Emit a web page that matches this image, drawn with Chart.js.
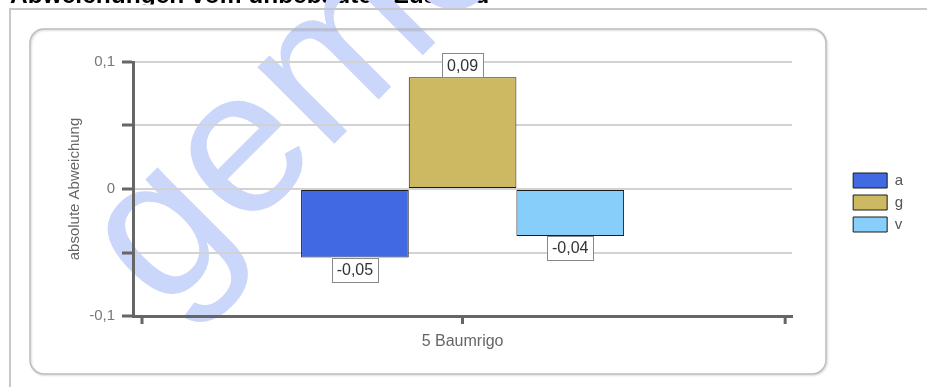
<!DOCTYPE html>
<html>
<head>
<meta charset="utf-8">
<script src="https://cdn.jsdelivr.net/npm/chart.js@4"></script>
<style>
  html, body { margin: 0; padding: 0; background: #fff; }
  #wrap { position: relative; width: 927px; height: 387px; }
</style>
</head>
<body>
<div id="wrap"><canvas id="c"></canvas></div>
<script>
// ---- data ----
const chartTitle = 'Abweichungen vom unbebauten Zustand';
const watermarkText = 'gemo';
const categories = ['5 Baumrigo'];
const seriesNames = ['a', 'g', 'v'];
const valuesA = [-0.054];
const valuesG = [0.088];
const valuesV = [-0.037];
const yAxisTitle = 'absolute Abweichung';
const yMin = -0.1, yMax = 0.1, yStep = 0.05;

const seriesColors = ['#4169e1', '#cdb961', '#87cefa'];

Chart.defaults.font.family = '"Liberation Sans", Arial, Helvetica, sans-serif';

function fmt(v, digits) {
  const s = digits === undefined ? String(Number(v.toFixed(4))) : v.toFixed(digits);
  return s.replace('.', ',');
}

const decor = {
  id: 'decor',
  beforeDraw(chart) {
    const ctx = chart.ctx;
    ctx.save();
    ctx.fillStyle = '#fff';
    ctx.fillRect(0, 0, chart.width, chart.height);
    // title (cut off at top)
    ctx.save();
    ctx.beginPath(); ctx.rect(0, 0, chart.width, 4.5); ctx.clip();
    ctx.fillStyle = '#000';
    ctx.font = 'bold 24.5px "Liberation Sans", Arial, sans-serif';
    ctx.textBaseline = 'alphabetic';
    ctx.fillText(chartTitle, 10, 3);
    ctx.restore();
    // watermark
    ctx.save();
    ctx.translate(163, 315);
    ctx.rotate(-Math.PI / 4);
    ctx.font = '205px "Liberation Sans", Arial, sans-serif';
    ctx.fillStyle = '#cad6fa';
    ctx.textBaseline = 'alphabetic';
    ctx.fillText(watermarkText, 0, 0);
    ctx.restore();
    // outer frame
    ctx.strokeStyle = '#c8c8c8';
    ctx.lineWidth = 2;
    ctx.beginPath();
    ctx.moveTo(10, chart.height); ctx.lineTo(10, 9); ctx.lineTo(chart.width, 9);
    ctx.stroke();
    // inner rounded box
    ctx.save();
    ctx.shadowColor = 'rgba(0,0,0,0.18)';
    ctx.shadowBlur = 2; ctx.shadowOffsetX = 1; ctx.shadowOffsetY = 1;
    ctx.strokeStyle = '#bdbdbd';
    ctx.lineWidth = 1.5;
    ctx.beginPath();
    ctx.roundRect(30, 29, 796, 345, 14);
    ctx.stroke();
    ctx.restore();
    ctx.restore();
  },
  afterDatasetsDraw(chart) {
    const ctx = chart.ctx;
    const ca = chart.chartArea;
    ctx.save();
    // edge ticks of x axis
    ctx.strokeStyle = '#666';
    ctx.lineWidth = 3;
    [ca.left + 9, ca.right - 7].forEach(x => {
      ctx.beginPath(); ctx.moveTo(x, ca.bottom); ctx.lineTo(x, ca.bottom + 8); ctx.stroke();
    });
    // value labels
    ctx.font = '16px "Liberation Sans", Arial, sans-serif';
    ctx.textAlign = 'center';
    ctx.textBaseline = 'middle';
    chart.data.datasets.forEach((ds, i) => {
      const meta = chart.getDatasetMeta(i);
      meta.data.forEach((el, j) => {
        const v = ds.data[j];
        const txt = fmt(v, 2);
        const w = ctx.measureText(txt).width + 10;
        const h = 24;
        const top = v >= 0 ? el.y - h : el.y;
        const left = el.x - w / 2;
        ctx.fillStyle = '#fff';
        ctx.fillRect(left, top, w, h);
        ctx.strokeStyle = '#888';
        ctx.lineWidth = 1;
        ctx.strokeRect(Math.round(left) + 0.5, Math.round(top) + 0.5, Math.round(w), h);
        ctx.fillStyle = '#333';
        ctx.fillText(txt, el.x, top + h / 2 + 1);
      });
    });
    ctx.restore();
  }
};

const seriesValues = [valuesA, valuesG, valuesV];

new Chart(document.getElementById('c'), {
  type: 'bar',
  data: {
    labels: categories,
    datasets: seriesNames.map((n, i) => ({
      label: n,
      data: seriesValues[i],
      backgroundColor: seriesColors[i],
      borderColor: '#1a1a1a',
      borderWidth: 1,
      borderSkipped: false,
      categoryPercentage: 0.49,
      barPercentage: 1.0
    }))
  },
  options: {
    responsive: true,
    maintainAspectRatio: false,
    animation: false,
    layout: { padding: { left: 0, top: 49, right: 14, bottom: 31 } },
    plugins: {
      title: { display: false },
      tooltip: { enabled: false },
      legend: {
        position: 'right',
        align: 'center',
        labels: {
          boxWidth: 34,
          boxHeight: 15,
          padding: 7,
          color: '#555',
          font: { size: 15 }
        }
      }
    },
    scales: {
      x: {
        grid: {
          display: true,
          drawOnChartArea: false,
          offset: false,
          drawTicks: true,
          tickLength: 8,
          tickColor: '#666',
          tickWidth: 3
        },
        border: { display: true, color: '#666', width: 3 },
        ticks: { color: '#666', font: { size: 16 }, padding: 8 },
        afterFit(s) { s.height = 40; }
      },
      xT: {
        type: 'linear',
        position: 'top',
        display: true,
        grid: { display: false },
        border: { display: false },
        ticks: { display: false },
        afterFit(s) { s.height = 13; }
      },
      y: {
        min: yMin,
        max: yMax,
        grid: {
          color: '#d2d2d2',
          lineWidth: 2,
          tickLength: 11,
          tickColor: '#666',
          tickWidth: 3
        },
        border: { display: true, color: '#666', width: 3 },
        ticks: {
          stepSize: yStep,
          color: '#777',
          font: { size: 15 },
          padding: 7,
          callback(v) {
            const r = Math.round(v * 10);
            if (Math.abs(v * 10 - r) > 1e-6) return '';
            return fmt(r / 10);
          }
        },
        title: {
          display: true,
          text: yAxisTitle,
          color: '#666',
          font: { size: 15 },
          padding: { top: 66, bottom: 0 }
        },
        afterFit(s) { s.width = 133; }
      },
      yR: {
        type: 'linear',
        position: 'right',
        display: true,
        grid: { display: false },
        border: { display: false },
        ticks: { display: false },
        afterFit(s) { s.width = 54; }
      }
    }
  },
  plugins: [decor]
});
</script>
</body>
</html>
